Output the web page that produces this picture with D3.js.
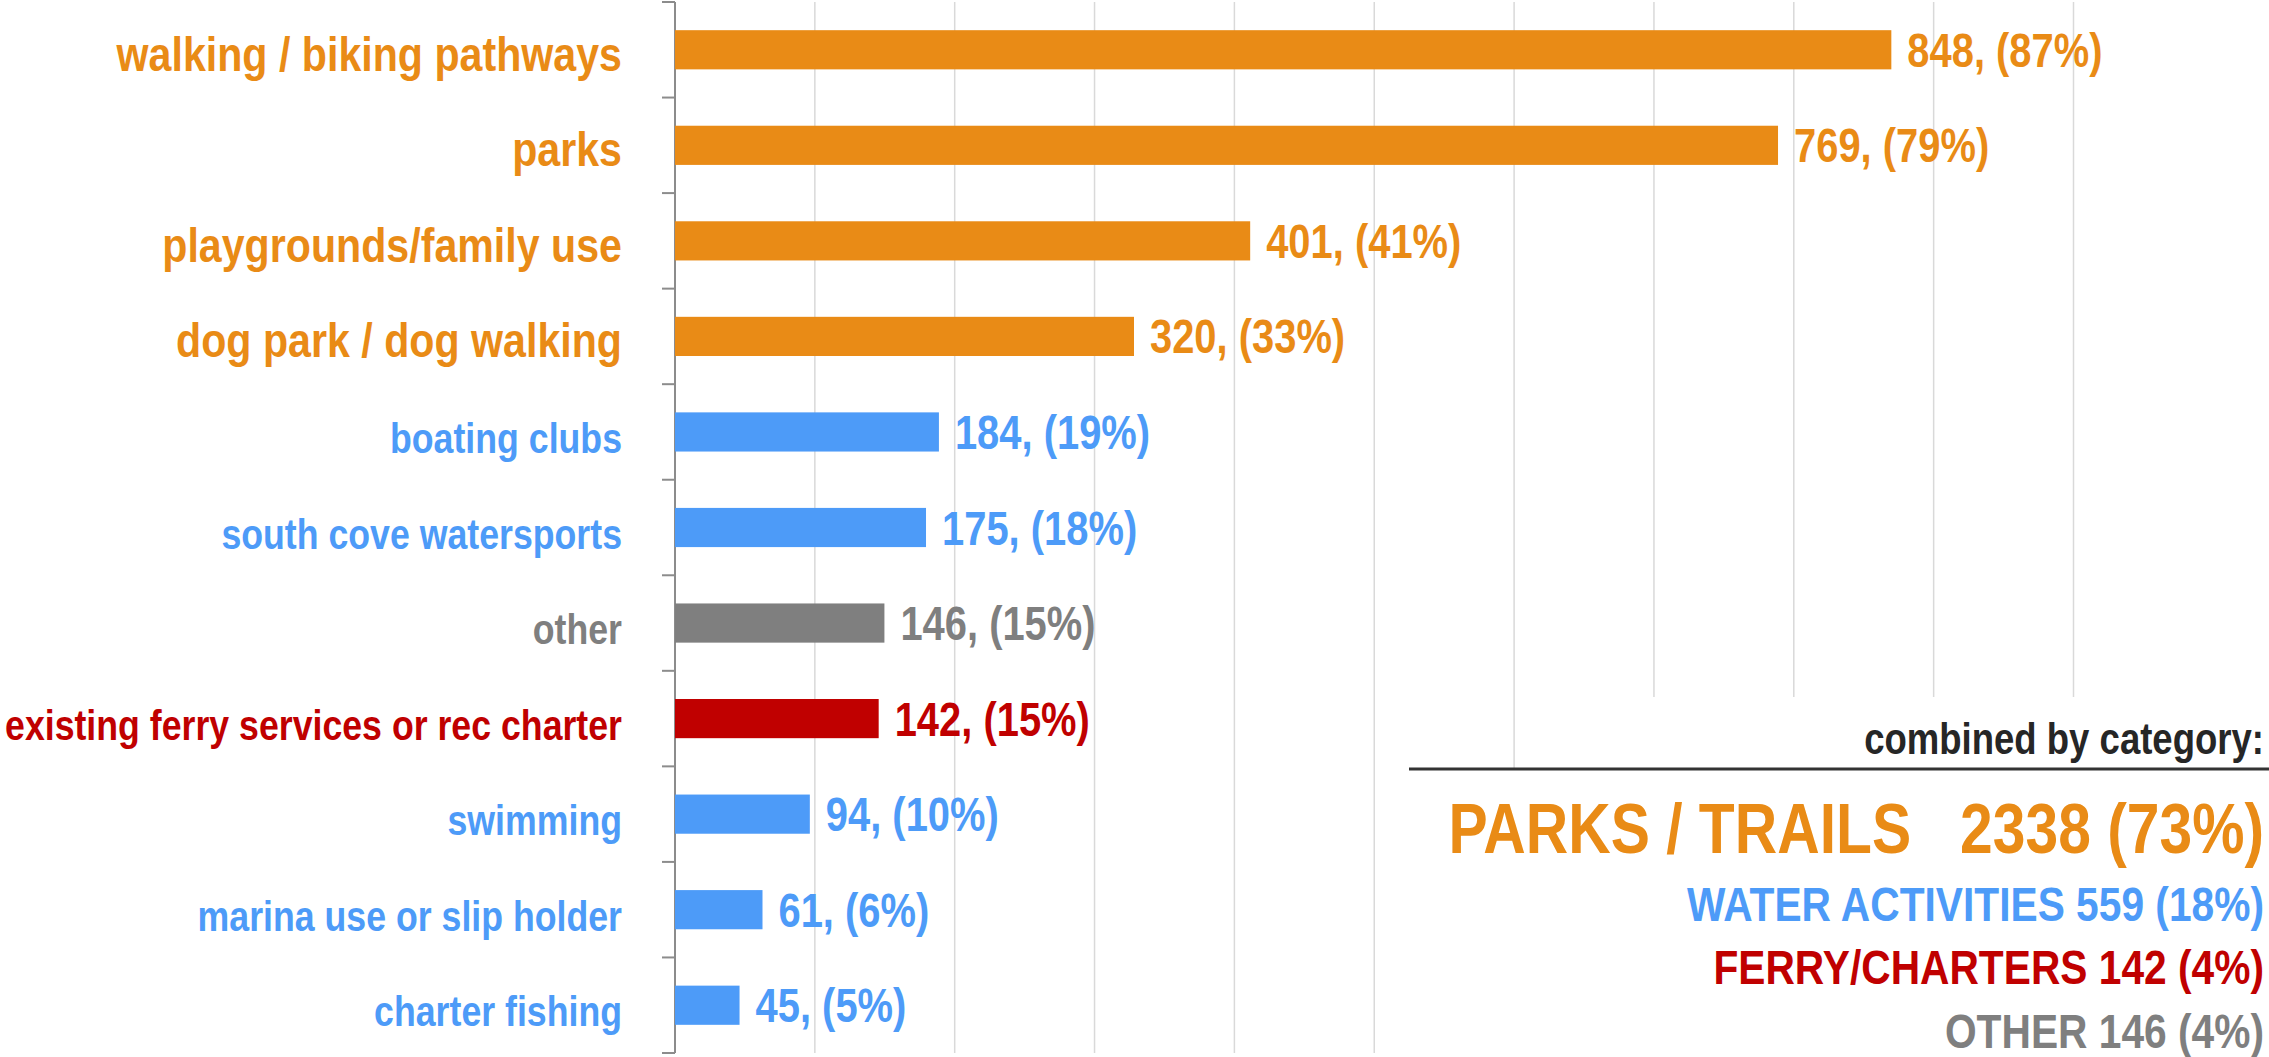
<!DOCTYPE html>
<html>
<head>
<meta charset="utf-8">
<script src="https://cdn.jsdelivr.net/npm/d3@7"></script>
<style>
  body { margin: 0; background: #fff; }
  svg text { font-family: "Liberation Sans Narrow", "Liberation Sans", Arial, sans-serif; font-weight: bold; white-space: pre; }
</style>
</head>
<body>
<script>
// survey answers, top to bottom
var categories = [
    "walking / biking pathways",
    "parks",
    "playgrounds/family use",
    "dog park / dog walking",
    "boating clubs",
    "south cove watersports",
    "other",
    "existing ferry services or rec charter",
    "swimming",
    "marina use or slip holder",
    "charter fishing"
];
var counts = [848, 769, 401, 320, 184, 175, 146, 142, 94, 61, 45];
var pctLabels = [87, 79, 41, 33, 19, 18, 15, 15, 10, 6, 5];
var groups = ["parks", "parks", "parks", "parks", "water", "water", "other", "ferry", "water", "water", "water"];
var respondents = 975;

// combined box
var summaryGroups = ["parks", "water", "ferry", "other"];
var summaryNames = ["PARKS / TRAILS  ", "WATER ACTIVITIES", "FERRY/CHARTERS", "OTHER"];
var summaryTotals = [2338, 559, 142, 146];
var summaryPct = [73, 18, 4, 4];
var xTicks = [10, 20, 30, 40, 50, 60, 70, 80, 90, 100];

window.onload = function() {
    var width = 2269, height = 1057;
    var colors = { parks: "#E98B16", water: "#4D9BF8", ferry: "#C00000", other: "#7F7F7F" };
    var squeeze = 0.84; // condensed look from a regular face

    var svg = d3.select("body").append("svg")
        .attr("width", width).attr("height", height);

    function place(x, y) {
        return "translate(" + x + "," + y + ") scale(" + squeeze + ",1)";
    }

    var x = d3.scaleLinear().domain([0, 100]).range([675, 2073.5]);
    var y = d3.scaleBand().domain(categories).range([2, 1053]).padding(0);
    var bw = y.bandwidth();
    var barH = bw * 0.41;
    var rows = categories.map((c, i) => ({ cat: c, n: counts[i], pct: pctLabels[i], g: groups[i] }));

    // gridlines
    svg.append("g").selectAll("line").data(xTicks).enter().append("line")
        .attr("x1", d => x(d)).attr("x2", d => x(d))
        .attr("y1", 2).attr("y2", 1053)
        .attr("stroke", "#D9D9D9").attr("stroke-width", 1.5);

    // category axis with ticks between bars
    var axis = svg.append("g").attr("stroke", "#8C8C8C").attr("stroke-width", 2);
    axis.append("line").attr("x1", x(0)).attr("x2", x(0)).attr("y1", 2).attr("y2", 1053);
    axis.selectAll(".tk").data(categories.concat([null])).enter().append("line")
        .attr("class", "tk")
        .attr("x1", x(0) - 13).attr("x2", x(0))
        .attr("y1", d => d === null ? 1053 : y(d))
        .attr("y2", d => d === null ? 1053 : y(d));

    // bars
    svg.selectAll(".bar").data(rows).enter().append("rect")
        .attr("class", "bar")
        .attr("x", x(0))
        .attr("y", d => y(d.cat) + (bw - barH) / 2)
        .attr("width", d => x(d.n / respondents * 100) - x(0))
        .attr("height", barH)
        .attr("fill", d => colors[d.g]);

    // category labels (parks group is set larger)
    svg.selectAll(".cat").data(rows).enter().append("text")
        .attr("class", "cat")
        .attr("transform", d => place(622, y(d.cat) + bw / 2 + 21))
        .attr("text-anchor", "end")
        .attr("font-size", d => d.g === "parks" ? 49 : 42.5)
        .attr("fill", d => colors[d.g])
        .text(d => d.cat);

    // value labels
    svg.selectAll(".val").data(rows).enter().append("text")
        .attr("class", "val")
        .attr("transform", d => place(x(d.n / respondents * 100) + 16, y(d.cat) + bw / 2 + 17))
        .attr("font-size", 47.5)
        .attr("fill", d => colors[d.g])
        .text(d => d.n + ", (" + d.pct + "%)");

    // combined-by-category box
    svg.append("rect").attr("x", 1520).attr("y", 697).attr("width", width - 1520).attr("height", 72).attr("fill", "#fff");
    svg.append("rect").attr("x", 1409).attr("y", 769).attr("width", width - 1409).attr("height", height - 769).attr("fill", "#fff");
    svg.append("line").attr("x1", 1409).attr("x2", width).attr("y1", 769).attr("y2", 769)
        .attr("stroke", "#333").attr("stroke-width", 3);
    svg.append("text").attr("transform", place(2264, 754)).attr("text-anchor", "end")
        .attr("font-size", 43.5).attr("fill", "#262626").text("combined by category:");

    var sumY = [853, 921, 984, 1048];
    var sumSize = [70, 48.5, 48.5, 48.5];
    svg.selectAll(".sum").data(summaryNames).enter().append("text")
        .attr("class", "sum")
        .attr("transform", (d, i) => place(2264, sumY[i]))
        .attr("text-anchor", "end")
        .attr("font-size", (d, i) => sumSize[i])
        .attr("fill", (d, i) => colors[summaryGroups[i]])
        .text((d, i) => d + " " + summaryTotals[i] + " (" + summaryPct[i] + "%)");
};
</script>
</body>
</html>
